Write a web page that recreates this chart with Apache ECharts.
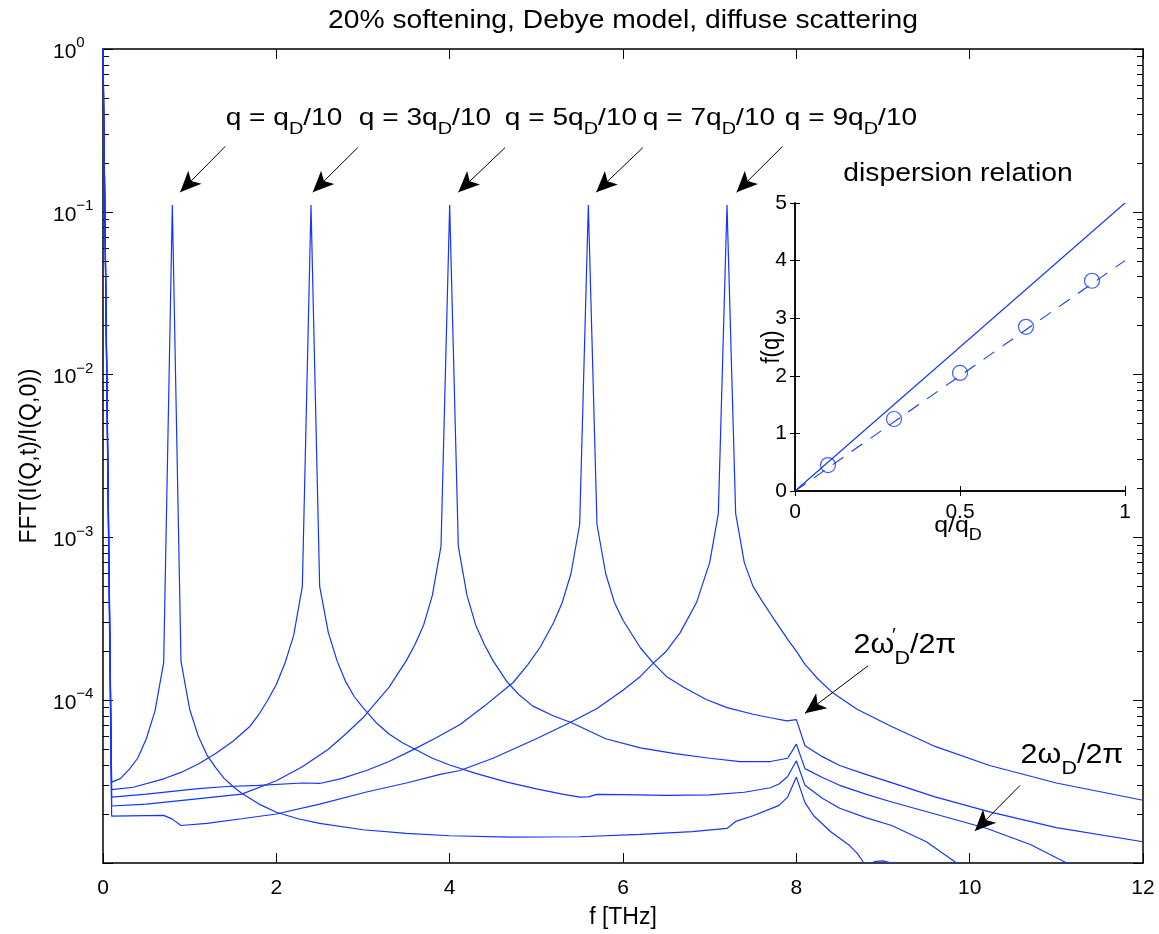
<!DOCTYPE html>
<html>
<head>
<meta charset="utf-8">
<title>FFT spectra, 20% softening</title>
<script src="https://cdn.jsdelivr.net/npm/echarts@6/dist/echarts.min.js"></script>
<style>
  html, body { margin: 0; padding: 0; background: #fff; }
  #chart { width: 1159px; height: 934px; }
</style>
</head>
<body>
<div id="chart"></div>
<script>
// spectra, f in THz
var c1F = [0, 0.1, 0.2, 0.3, 0.4, 0.5, 0.6, 0.7, 0.8, 0.9, 1.0, 1.1, 1.2, 1.3, 1.4, 1.5, 1.6, 1.8, 2.0, 2.25, 2.5, 3.0, 3.5, 4.0, 4.7, 5.5, 6.2, 6.8, 7.2, 7.3, 7.5, 7.7, 7.8, 7.9, 8.0, 8.1, 8.2, 8.4, 8.6, 8.7, 8.78, 8.84, 8.9, 9.0, 9.1, 9.2, 10, 12];
var c1V = [1, 3.14e-5, 3.3e-5, 3.75e-5, 4.4e-5, 5.8e-5, 8.6e-5, 1.7e-4, 0.11, 1.73e-4, 8.8e-5, 6.0e-5, 4.6e-5, 3.85e-5, 3.3e-5, 2.95e-5, 2.68e-5, 2.3e-5, 2.05e-5, 1.87e-5, 1.75e-5, 1.6e-5, 1.52e-5, 1.47e-5, 1.44e-5, 1.45e-5, 1.5e-5, 1.56e-5, 1.63e-5, 1.8e-5, 1.95e-5, 2.15e-5, 2.26e-5, 2.54e-5, 3.37e-5, 2.35e-5, 1.95e-5, 1.55e-5, 1.3e-5, 1.15e-5, 1.0e-5, 9.5e-6, 1.02e-5, 1.03e-5, 1.0e-5, 9e-6, 7e-6, 6e-6];

var c2F = [0, 0.1, 0.35, 0.7, 0.9, 1.1, 1.3, 1.5, 1.7, 1.8, 1.9, 2.0, 2.1, 2.2, 2.3, 2.4, 2.5, 2.6, 2.7, 2.8, 2.9, 3.0, 3.15, 3.3, 3.45, 3.6, 3.8, 4.0, 4.3, 4.66, 5.0, 5.3, 5.5, 5.6, 5.7, 6.0, 6.5, 7.0, 7.4, 7.7, 7.8, 7.9, 8.0, 8.1, 8.3, 8.5, 8.8, 9.1, 9.5, 9.85, 10.5, 12];
var c2V = [1, 2.82e-5, 2.92e-5, 3.29e-5, 3.6e-5, 4.06e-5, 4.7e-5, 5.6e-5, 6.95e-5, 8.2e-5, 1.0e-4, 1.25e-4, 1.69e-4, 2.5e-4, 5.0e-4, 0.11, 5.0e-4, 2.6e-4, 1.75e-4, 1.3e-4, 1.05e-4, 9.0e-5, 7.3e-5, 6.2e-5, 5.5e-5, 5.0e-5, 4.4e-5, 4.0e-5, 3.55e-5, 3.14e-5, 2.85e-5, 2.65e-5, 2.54e-5, 2.55e-5, 2.64e-5, 2.63e-5, 2.6e-5, 2.62e-5, 2.72e-5, 2.9e-5, 3.06e-5, 3.4e-5, 4.25e-5, 3.0e-5, 2.5e-5, 2.17e-5, 1.9e-5, 1.7e-5, 1.35e-5, 1.0e-5, 7e-6, 5e-6];

var c3F = [0, 0.1, 0.5, 1.0, 1.6, 2.0, 2.3, 2.6, 2.8, 3.0, 3.15, 3.3, 3.4, 3.5, 3.6, 3.7, 3.8, 3.9, 4.0, 4.1, 4.2, 4.3, 4.4, 4.5, 4.66, 4.8, 4.96, 5.2, 5.4, 5.8, 6.2, 6.6, 7.0, 7.35, 7.7, 7.9, 8.0, 8.1, 8.3, 8.5, 8.8, 9.1, 9.6, 10.2, 10.7, 11.12, 12];
var c3V = [1, 2.24e-5, 2.3e-5, 2.45e-5, 2.65e-5, 3.2e-5, 3.9e-5, 5.0e-5, 6.2e-5, 7.8e-5, 9.7e-5, 1.2e-4, 1.45e-4, 1.75e-4, 2.2e-4, 2.9e-4, 4.4e-4, 8.8e-4, 0.11, 8.8e-4, 4.4e-4, 2.9e-4, 2.2e-4, 1.75e-4, 1.3e-4, 1.08e-4, 9.2e-5, 8.0e-5, 7.3e-5, 5.8e-5, 5.1e-5, 4.7e-5, 4.4e-5, 4.2e-5, 4.2e-5, 4.4e-5, 5.37e-5, 3.8e-5, 3.35e-5, 3.0e-5, 2.65e-5, 2.37e-5, 2.0e-5, 1.63e-5, 1.3e-5, 1.0e-5, 7e-6];

var c4F = [0, 0.1, 0.5, 1.1, 1.43, 1.8, 2.3, 2.5, 2.75, 3.04, 3.3, 3.58, 3.85, 4.12, 4.4, 4.73, 4.9, 5.04, 5.2, 5.3, 5.4, 5.5, 5.6, 5.7, 5.8, 5.9, 6.0, 6.2, 6.35, 6.5, 6.7, 6.96, 7.2, 7.5, 7.7, 7.89, 8.0, 8.1, 8.3, 8.5, 8.8, 9.08, 9.6, 10.23, 11, 12];
var c4V = [1, 2.54e-5, 2.65e-5, 2.86e-5, 2.95e-5, 3.0e-5, 3.1e-5, 3.08e-5, 3.3e-5, 3.7e-5, 4.2e-5, 4.97e-5, 5.9e-5, 7.1e-5, 9.2e-5, 1.28e-4, 1.65e-4, 2.1e-4, 3.0e-4, 4.0e-4, 6.0e-4, 1.2e-3, 0.11, 1.2e-3, 6.0e-4, 4.0e-4, 3.1e-4, 2.1e-4, 1.69e-4, 1.4e-4, 1.2e-4, 1.01e-4, 9.0e-5, 8.2e-5, 7.8e-5, 7.46e-5, 7.6e-5, 5.25e-5, 4.5e-5, 3.97e-5, 3.5e-5, 3.14e-5, 2.55e-5, 2.06e-5, 1.65e-5, 1.35e-5];

var c5F = [0, 0.1, 0.7, 0.8, 0.9, 1.2, 1.6, 2.0, 2.5, 3.04, 3.5, 3.89, 4.12, 4.5, 5.0, 5.39, 5.7, 6.0, 6.2, 6.35, 6.5, 6.66, 6.85, 7.0, 7.1, 7.2, 7.3, 7.4, 7.5, 7.6, 7.75, 7.92, 8.0, 8.1, 8.25, 8.42, 8.7, 9.08, 9.6, 10.23, 11, 12];
var c5V = [1, 1.94e-5, 1.96e-5, 1.86e-5, 1.7e-5, 1.75e-5, 1.87e-5, 2.0e-5, 2.3e-5, 2.73e-5, 3.1e-5, 3.5e-5, 3.7e-5, 4.4e-5, 5.8e-5, 7.3e-5, 8.9e-5, 1.15e-4, 1.4e-4, 1.69e-4, 2.0e-4, 2.6e-4, 4.0e-4, 7.0e-4, 1.4e-3, 0.11, 1.4e-3, 7.0e-4, 5.0e-4, 4.1e-4, 3.1e-4, 2.28e-4, 2.0e-4, 1.66e-4, 1.35e-4, 1.11e-4, 8.8e-5, 6.96e-5, 5.2e-5, 3.97e-5, 3.1e-5, 2.43e-5];

// inset: dispersion relation
var debyeQ = [0, 1];
var debyeF = [0, 5];
var softQ = [0, 1];
var softF = [0, 4];
var peakQ = [0.1, 0.3, 0.5, 0.7, 0.9];
var peakF = [0.45, 1.25, 2.05, 2.85, 3.65];

// annotation labels and arrows (tail -> tip, data coords)
var qLabels = ['q = q', 'q = 3q', 'q = 5q', 'q = 7q', 'q = 9q'];
var arrows = [
  [[1.41, 0.252], [0.89, 0.132]],
  [[2.94, 0.248], [2.42, 0.132]],
  [[4.64, 0.248], [4.10, 0.132]],
  [[6.23, 0.248], [5.69, 0.132]],
  [[7.84, 0.252], [7.31, 0.132]],
  [[8.83, 1.63e-4], [8.10, 8.3e-5]],
  [[10.58, 2.99e-5], [10.06, 1.57e-5]]
];

var FONT = 'Liberation Sans, Arial, Helvetica, sans-serif';
var BLUE = '#1434ff';
var WIDE = 1.13; // reference text runs wider than Liberation Sans

function pairs(xs, ys) {
  return xs.map(function (x, i) { return [x, ys[i]]; });
}

var minorTicks = [];
for (var e = -5; e < 0; e++) {
  for (var m = 2; m <= 9; m++) minorTicks.push(m * Math.pow(10, e));
}
var majorTicks = [1e-5, 1e-4, 1e-3, 1e-2, 1e-1, 1];

function logLabel(v) {
  var p = Math.round(Math.log10(v));
  return '{b|10}{s|' + (p < 0 ? '\u2212' + (-p) : p) + '}';
}

var chart = echarts.init(document.getElementById('chart'));

var axisLine = { show: true, lineStyle: { color: '#000', width: 1.5 } };
var labelRich = {
  b: { fontSize: 21, fontFamily: FONT, color: '#000', verticalAlign: 'bottom' },
  s: { fontSize: 15, fontFamily: FONT, color: '#000', verticalAlign: 'bottom', padding: [0, 0, 12, 0] }
};

var series = [];
[[c1F, c1V], [c2F, c2V], [c3F, c3V], [c4F, c4V], [c5F, c5V]].forEach(function (c) {
  series.push({
    type: 'line', xAxisIndex: 0, yAxisIndex: 0,
    data: pairs(c[0], c[1]),
    showSymbol: false, symbol: 'none',
    lineStyle: { color: BLUE, width: 1.2 },
    z: 3
  });
});

series.push({
  type: 'lines', coordinateSystem: 'cartesian2d', xAxisIndex: 0, yAxisIndex: 0,
  symbol: ['none', 'arrow'], symbolSize: [1, [14, 21]],
  lineStyle: { color: '#000', width: 1, opacity: 1 },
  data: arrows.map(function (a) { return { coords: a }; }),
  z: 4
});

series.push({
  type: 'line', xAxisIndex: 2, yAxisIndex: 4,
  data: pairs(debyeQ, debyeF), showSymbol: false,
  lineStyle: { color: BLUE, width: 1.1 }
});
series.push({
  type: 'line', xAxisIndex: 2, yAxisIndex: 4,
  data: pairs(softQ, softF), showSymbol: false,
  lineStyle: { color: BLUE, width: 1.1, type: [13, 10] }
});
series.push({
  type: 'scatter', xAxisIndex: 2, yAxisIndex: 4,
  data: pairs(peakQ, peakF), symbol: 'circle', symbolSize: 15,
  itemStyle: { color: 'rgba(0,0,0,0)', borderColor: BLUE, borderWidth: 1.2 }
});

function wideText(x, y, text, size, extra) {
  var g = {
    type: 'text', x: x, y: y, scaleX: WIDE,
    style: { text: text, fontSize: size, fontFamily: FONT, fill: '#000', textAlign: 'center', textVerticalAlign: 'middle' }
  };
  if (extra) {
    for (var k in extra) g.style[k] = extra[k];
  }
  return g;
}

function subRich(size, subSize, drop) {
  return {
    a: { fontSize: size, fontFamily: FONT, fill: '#000', verticalAlign: 'bottom', padding: [0, 0, drop, 0] },
    d: { fontSize: subSize, fontFamily: FONT, fill: '#000', verticalAlign: 'bottom' }
  };
}

var graphics = [];
graphics.push(wideText(623, 21, '20% softening, Debye model, diffuse scattering', 25));
var qCenters = [284, 425, 571, 709, 851];
qLabels.forEach(function (t, i) {
  var g = wideText(qCenters[i], 122, '{a|' + t + '}{d|D}{a|/10}', 24, { rich: subRich(24, 17, 8) });
  g.scaleX = 1.17;
  graphics.push(g);
});
graphics.push(wideText(905, 650, '{a|2\u03c9}{d|D}{a|/2\u03c0}', 27, { rich: subRich(27, 19, 9) }));
graphics.push(wideText(894, 636, '\u2032', 18));
graphics.push(wideText(1072, 760, '{a|2\u03c9}{d|D}{a|/2\u03c0}', 27, { rich: subRich(27, 19, 9) }));
graphics.push(wideText(958, 174, 'dispersion relation', 25));
graphics.push(wideText(958, 529, '{a|q/q}{d|D}', 22, { rich: subRich(22, 16, 7) }));
var fq = wideText(772, 347, 'f(q)', 22);
fq.scaleX = 1; fq.scaleY = WIDE; fq.rotation = Math.PI / 2;
graphics.push(fq);

var option = {
  backgroundColor: '#fff',
  animation: false,
  grid: [
    { left: 103, top: 49, width: 1040, height: 819 },
    { left: 795, top: 203, width: 330, height: 288 }
  ],
  xAxis: [
    {
      gridIndex: 0, type: 'value', min: 0, max: 12, interval: 2, position: 'bottom',
      axisLine: axisLine, splitLine: { show: false },
      axisTick: { inside: true, length: 10, lineStyle: { color: '#000' } },
      axisLabel: { fontSize: 21, fontFamily: FONT, color: '#000', margin: 15 },
      name: 'f [THz]', nameLocation: 'middle', nameGap: 43,
      nameTextStyle: { fontSize: 23, fontFamily: FONT, color: '#000' }
    },
    {
      gridIndex: 0, type: 'value', min: 0, max: 12, interval: 2, position: 'top',
      axisLine: axisLine, splitLine: { show: false },
      axisTick: { inside: true, length: 10, lineStyle: { color: '#000' } },
      axisLabel: { show: false }
    },
    {
      gridIndex: 1, type: 'value', min: 0, max: 1, interval: 0.5, position: 'bottom',
      axisLine: axisLine, splitLine: { show: false },
      axisTick: { inside: true, length: 5, lineStyle: { color: '#000' } },
      axisLabel: { fontSize: 21, fontFamily: FONT, color: '#000', margin: 11 }
    },
    {
      gridIndex: 1, type: 'value', min: 0, max: 1, interval: 0.5, position: 'top',
      axisLine: axisLine, splitLine: { show: false },
      axisTick: { inside: true, length: 5, lineStyle: { color: '#000' } },
      axisLabel: { show: false }
    }
  ],
  yAxis: [
    {
      gridIndex: 0, type: 'log', logBase: 10, min: 1e-5, max: 1, position: 'left',
      axisLine: axisLine, splitLine: { show: false },
      axisTick: { inside: true, length: 10, lineStyle: { color: '#000' }, customValues: majorTicks },
      axisLabel: { formatter: logLabel, rich: labelRich, margin: 50, align: 'left', customValues: [1e-4, 1e-3, 1e-2, 1e-1, 1] },
      name: 'FFT(I(Q,t)/I(Q,0))', nameLocation: 'middle', nameGap: 62,
      nameTextStyle: { fontSize: 23, fontFamily: FONT, color: '#000' }
    },
    {
      gridIndex: 0, type: 'log', logBase: 10, min: 1e-5, max: 1, position: 'left',
      axisLine: { show: false }, splitLine: { show: false },
      axisTick: { inside: true, length: 6, lineStyle: { color: '#000' }, customValues: minorTicks },
      axisLabel: { show: false }
    },
    {
      gridIndex: 0, type: 'log', logBase: 10, min: 1e-5, max: 1, position: 'right',
      axisLine: axisLine, splitLine: { show: false },
      axisTick: { inside: true, length: 10, lineStyle: { color: '#000' }, customValues: majorTicks },
      axisLabel: { show: false }
    },
    {
      gridIndex: 0, type: 'log', logBase: 10, min: 1e-5, max: 1, position: 'right',
      axisLine: { show: false }, splitLine: { show: false },
      axisTick: { inside: true, length: 6, lineStyle: { color: '#000' }, customValues: minorTicks },
      axisLabel: { show: false }
    },
    {
      gridIndex: 1, type: 'value', min: 0, max: 5, interval: 1, position: 'left',
      axisLine: axisLine, splitLine: { show: false },
      axisTick: { inside: true, length: 5, lineStyle: { color: '#000' } },
      axisLabel: { fontSize: 21, fontFamily: FONT, color: '#000', margin: 8 }
    },
    {
      gridIndex: 1, type: 'value', min: 0, max: 5, interval: 1, position: 'right',
      axisLine: axisLine, splitLine: { show: false },
      axisTick: { inside: true, length: 5, lineStyle: { color: '#000' } },
      axisLabel: { show: false }
    }
  ],
  series: series,
  graphic: graphics
};

chart.setOption(option);
</script>
</body>
</html>
